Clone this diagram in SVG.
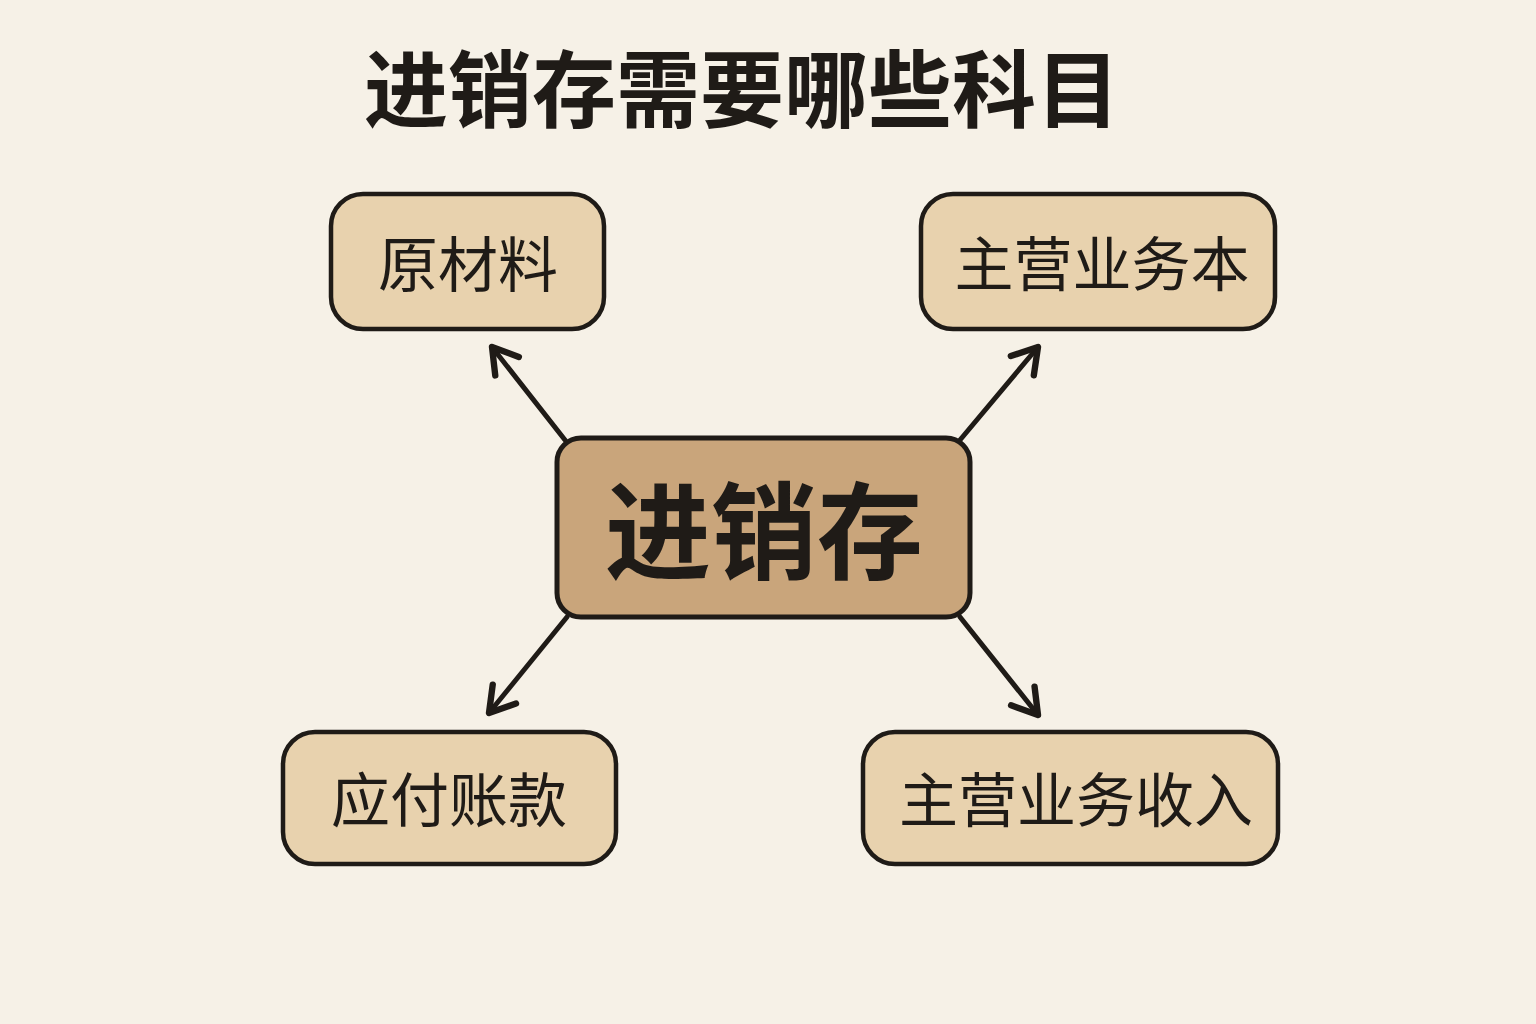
<svg xmlns="http://www.w3.org/2000/svg" width="1536" height="1024" viewBox="0 0 1536 1024">
<defs>
<style>
.bg{fill:#f6f1e7}
.node rect{fill:#e8d2ae;stroke:#1f1b17;stroke-width:4.5}
.center rect{fill:#c9a57b;stroke:#1f1b17;stroke-width:5}
.lbl{font-family:"Noto Sans CJK SC","Noto Sans",sans-serif;fill:#1f1b17;text-anchor:middle;dominant-baseline:central}
.conn line{stroke:#1f1b17;stroke-width:5;stroke-linecap:round}
</style>
<marker id="arr" viewBox="0 0 20 20" refX="16" refY="10" markerWidth="7.5" markerHeight="7.5" markerUnits="strokeWidth" orient="auto">
<path d="M3,2 L16,10 L3,18" fill="none" stroke="#1f1b17" stroke-width="3.4" stroke-linecap="round" stroke-linejoin="round"/>
</marker>
</defs>
<rect class="bg" x="0" y="0" width="1536" height="1024"/>
<text class="lbl" x="742" y="84" font-size="84" font-weight="bold">进销存需要哪些科目</text>
<g id="connectors" class="conn">
<line x1="565" y1="440" x2="492" y2="347" marker-end="url(#arr)"/>
<line x1="960" y1="440" x2="1038" y2="347" marker-end="url(#arr)"/>
<line x1="567" y1="617" x2="489" y2="713" marker-end="url(#arr)"/>
<line x1="960" y1="617" x2="1038" y2="715" marker-end="url(#arr)"/>
</g>
<g id="center" class="center">
<rect x="557" y="438" width="413" height="179" rx="24"/>
<text class="lbl" x="764" y="525" font-size="106" font-weight="bold">进销存</text>
</g>
<g id="n1" class="node">
<rect x="331" y="194" width="273" height="135" rx="32"/>
<text class="lbl" x="468" y="260" font-size="60">原材料</text>
</g>
<g id="n2" class="node">
<rect x="921" y="194" width="354" height="135" rx="32"/>
<text class="lbl" x="1102" y="260" font-size="59">主营业务本</text>
</g>
<g id="n3" class="node">
<rect x="283" y="732" width="333" height="132" rx="32"/>
<text class="lbl" x="449" y="796" font-size="59">应付账款</text>
</g>
<g id="n4" class="node">
<rect x="863" y="732" width="415" height="132" rx="32"/>
<text class="lbl" x="1076" y="796" font-size="59">主营业务收入</text>
</g>
</svg>
